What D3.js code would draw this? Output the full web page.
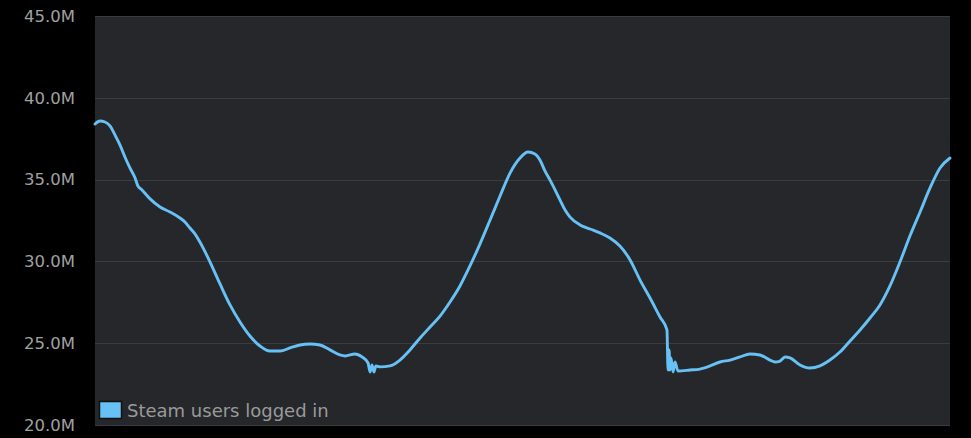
<!DOCTYPE html>
<html>
<head>
<meta charset="utf-8">
<script src="https://cdn.jsdelivr.net/npm/d3@7"></script>
<style>
  html, body { margin: 0; padding: 0; background: #000; }
  svg { display: block; }
</style>
</head>
<body>
<svg id="chart" width="971" height="438"></svg>
<script>
// ---- data (hours since start of window, millions of users) ----
const hours = [0, 0.28, 0.56, 0.84, 1.12, 1.40, 1.68, 1.96, 2.25, 2.41, 2.64, 3.09, 3.65, 4.21, 4.77, 5.05, 5.33, 5.61, 5.89, 6.46, 7.02, 7.58, 8.14, 8.70, 9.26, 9.82, 10.39, 10.95, 11.51, 12.07, 12.63, 13.19, 13.75, 14.04, 14.60, 14.99, 15.33, 15.44, 15.55, 15.66, 15.77, 16.00, 16.56, 17.12, 17.68, 18.25, 18.81, 19.37, 19.93, 20.49, 21.05, 21.61, 22.18, 22.74, 23.30, 23.86, 24.31, 24.70, 24.98, 25.26, 25.54, 26.11, 26.39, 26.67, 27.23, 27.79, 28.35, 28.91, 29.47, 30.04, 30.60, 31.16, 31.72, 32.11, 32.17, 32.23, 32.28, 32.34, 32.45, 32.56, 32.73, 33.40, 33.96, 34.53, 35.09, 35.65, 36.21, 36.77, 37.33, 37.89, 38.18, 38.46, 38.74, 39.02, 39.58, 40.14, 40.70, 41.26, 41.82, 42.39, 42.95, 43.51, 44.07, 44.63, 45.19, 45.75, 46.32, 46.88, 47.44, 48];
const usersM = [38.40, 38.58, 38.52, 38.28, 37.73, 37.12, 36.38, 35.71, 35.10, 34.61, 34.37, 33.82, 33.33, 33.02, 32.65, 32.41, 32.04, 31.68, 31.19, 29.96, 28.62, 27.34, 26.30, 25.44, 24.83, 24.52, 24.52, 24.71, 24.89, 24.95, 24.89, 24.59, 24.28, 24.22, 24.34, 24.16, 23.79, 23.24, 23.67, 23.24, 23.61, 23.55, 23.61, 23.97, 24.59, 25.32, 25.99, 26.66, 27.52, 28.50, 29.72, 31.06, 32.53, 34.00, 35.40, 36.32, 36.69, 36.57, 36.20, 35.53, 34.98, 33.75, 33.14, 32.71, 32.23, 31.98, 31.74, 31.43, 30.94, 30.09, 28.86, 27.76, 26.60, 25.81, 23.36, 24.59, 23.36, 24.10, 23.24, 23.85, 23.30, 23.36, 23.42, 23.61, 23.85, 23.97, 24.16, 24.34, 24.28, 23.97, 23.85, 23.91, 24.16, 24.10, 23.67, 23.48, 23.61, 23.97, 24.46, 25.14, 25.81, 26.54, 27.34, 28.50, 29.96, 31.55, 33.02, 34.49, 35.71, 36.32];
const yTickValues = [20, 25, 30, 35, 40, 45];
const yTickLabels = ["20.0M", "25.0M", "30.0M", "35.0M", "40.0M", "45.0M"];
const seriesName = "Steam users logged in";

// ---- layout ----
const svg = d3.select("#chart");
const W = 971, H = 438;
const m = { left: 95, right: 21, top: 16, bottom: 13 };
const pw = W - m.left - m.right, ph = H - m.top - m.bottom;

const x = d3.scaleLinear().domain([0, 48]).range([m.left, m.left + pw]);
const y = d3.scaleLinear().domain([20, 45]).range([m.top + ph, m.top]);

svg.append("rect").attr("width", W).attr("height", H).attr("fill", "#000");
svg.append("rect")
  .attr("x", m.left).attr("y", m.top).attr("width", pw).attr("height", ph)
  .attr("fill", "#25272a");

// gridlines
svg.append("g").selectAll("line").data(yTickValues).join("line")
  .attr("x1", m.left).attr("x2", m.left + pw)
  .attr("y1", d => Math.round(y(d)) + 0.5).attr("y2", d => Math.round(y(d)) + 0.5)
  .attr("stroke", "#3a3c3f").attr("stroke-width", 1);

// y axis
const yAxis = d3.axisLeft(y).tickValues(yTickValues)
  .tickFormat((d, i) => yTickLabels[i]).tickSize(0).tickPadding(20);
const ga = svg.append("g").attr("transform", `translate(${m.left},0)`).call(yAxis);
ga.select(".domain").remove();
ga.selectAll("text")
  .attr("fill", "#a0a0a0")
  .style("font-family", "'DejaVu Sans', Verdana, sans-serif")
  .style("font-size", "16.5px");

// line
const pts = hours.map((h, i) => [h, usersM[i]]);
const line = d3.line().x(d => x(d[0])).y(d => y(d[1])).curve(d3.curveMonotoneX);
svg.append("path").datum(pts)
  .attr("d", line)
  .attr("fill", "none")
  .attr("stroke", "#67c1f5")
  .attr("stroke-width", 2.9)
  .attr("stroke-linejoin", "round")
  .attr("stroke-linecap", "round");

// legend
const lg = svg.append("g").attr("transform", `translate(${m.left + 4},${m.top + ph - 24})`);
lg.append("rect").attr("x", 0.5).attr("y", 0.5).attr("width", 22).attr("height", 17)
  .attr("fill", "#67c1f5").attr("stroke", "#111").attr("stroke-width", 1.5);
lg.append("text").attr("x", 28).attr("y", 15.5)
  .attr("fill", "#9a9a9a")
  .style("font-family", "'DejaVu Sans', Verdana, sans-serif")
  .style("font-size", "18px")
  .text(seriesName);
</script>
</body>
</html>
